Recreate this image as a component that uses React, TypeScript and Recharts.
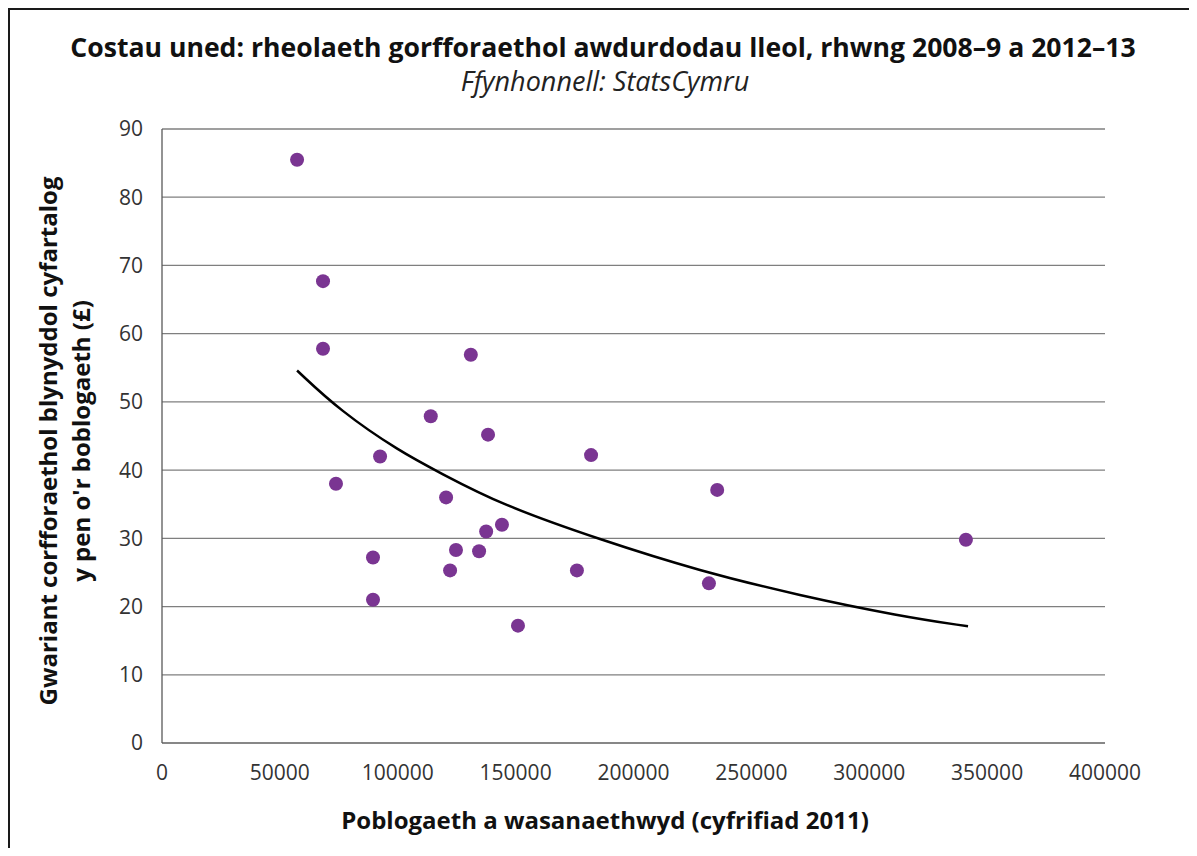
import React from "react"
import {
  ScatterChart,
  Scatter,
  XAxis,
  YAxis,
  CartesianGrid,
} from "recharts"

// population served (2011 census) and yearly corporate spend per head (£)
const populations = [
  57300, 68300, 68300, 131000, 114000, 138300, 92500, 182000, 73800, 235500, 120500,
  144200, 137500, 341000, 124700, 134500, 89500, 122200, 176000, 232000, 89500, 151000,
]
const costs = [
  85.5, 67.7, 57.8, 56.9, 47.9, 45.2, 42.0, 42.2, 38.0, 37.1, 36.0,
  32.0, 31.0, 29.8, 28.3, 28.1, 27.2, 25.3, 25.3, 23.4, 21.0, 17.2,
]

// trend line
const trendX = [57300, 75500, 101000, 118000, 143400, 185800, 228200, 270600, 313000, 341900]
const trendY = [54.6, 48.7, 42.7, 39.6, 35.0, 29.8, 25.2, 21.6, 18.6, 17.1]

const xTicks = [0, 50000, 100000, 150000, 200000, 250000, 300000, 350000, 400000]
const yTicks = [0, 10, 20, 30, 40, 50, 60, 70, 80, 90]

const points = populations.map((x, i) => ({ x, y: costs[i] }))
const trend = trendX.map((x, i) => ({ x, y: trendY[i] }))

const FONT = "'Open Sans', 'Noto Sans', sans-serif"

const Dot = (props: any) => (
  <circle cx={props.cx} cy={props.cy} r={7} fill="#7a3592" />
)

export default function App() {
  return (
    <div
      style={{
        position: "relative",
        width: 1181,
        height: 840,
        fontFamily: FONT,
        color: "#111",
      }}
    >
      <div
        style={{
          position: "absolute",
          left: 595,
          top: 39,
          transform: "translate(-50%, -50%)",
          whiteSpace: "nowrap",
          fontWeight: 700,
          fontSize: 26.6,
          lineHeight: "32px",
        }}
      >
        Costau uned: rheolaeth gorfforaethol awdurdodau lleol, rhwng 2008–9 a 2012–13
      </div>
      <div
        style={{
          position: "absolute",
          left: 597,
          top: 73,
          transform: "translate(-50%, -50%)",
          whiteSpace: "nowrap",
          fontStyle: "italic",
          fontSize: 27,
          lineHeight: "32px",
          color: "#222",
        }}
      >
        Ffynhonnell: StatsCymru
      </div>

      <div
        style={{
          position: "absolute",
          left: 56,
          top: 433,
          transform: "translate(-50%, -50%) rotate(-90deg)",
          whiteSpace: "nowrap",
          textAlign: "center",
          fontWeight: 700,
          fontSize: 24,
          lineHeight: "33px",
        }}
      >
        Gwariant corfforaethol blynyddol cyfartalog
        <br />
        y pen o'r boblogaeth (£)
      </div>

      <div
        style={{
          position: "absolute",
          left: 597,
          top: 812,
          transform: "translate(-50%, -50%)",
          whiteSpace: "nowrap",
          fontWeight: 700,
          fontSize: 24,
          lineHeight: "30px",
        }}
      >
        Poblogaeth a wasanaethwyd (cyfrifiad 2011)
      </div>

      <ScatterChart
        width={1181}
        height={840}
        margin={{ top: 121, right: 84, left: 94, bottom: 65 }}
        style={{ position: "absolute", left: 0, top: 0 }}
      >
        <CartesianGrid vertical={false} stroke="#7f7f7f" strokeWidth={1.3} />
        <XAxis
          type="number"
          dataKey="x"
          domain={[0, 400000]}
          ticks={xTicks}
          interval={0}
          height={40}
          tickLine={false}
          tickMargin={16}
          axisLine={{ stroke: "#7f7f7f", strokeWidth: 1.3 }}
          tick={{ fill: "#333", fontSize: 21, fontFamily: FONT }}
        />
        <YAxis
          type="number"
          dataKey="y"
          domain={[0, 90]}
          ticks={yTicks}
          interval={0}
          width={60}
          tickLine={false}
          tickMargin={13}
          axisLine={{ stroke: "#595959", strokeWidth: 1.3 }}
          tick={{ fill: "#333", fontSize: 21, fontFamily: FONT }}
        />
        <Scatter
          data={trend}
          shape={() => <g />}
          line={{ stroke: "#000", strokeWidth: 2.5 }}
          lineJointType="basis"
          isAnimationActive={false}
        />
        <Scatter data={points} shape={Dot} isAnimationActive={false} />
      </ScatterChart>

      <div style={{ position: "absolute", zIndex: 5, left: 0, top: 0, width: 2, height: 848, background: "#1a1a1a" }} />
      <div style={{ position: "absolute", zIndex: 5, left: 0, top: 0, width: 1184, height: 2, background: "#1a1a1a" }} />
    </div>
  )
}
